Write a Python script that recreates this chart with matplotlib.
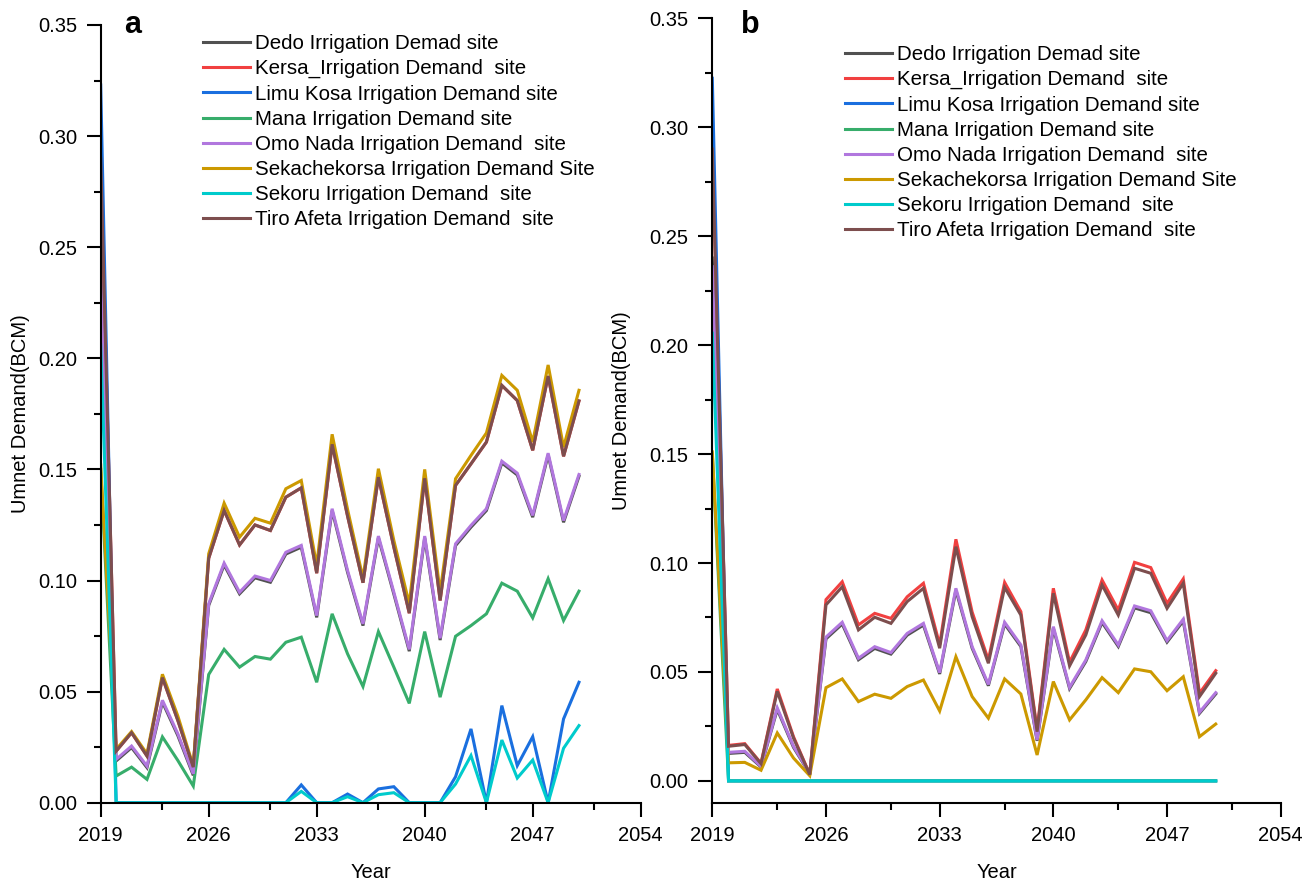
import matplotlib
matplotlib.use("Agg")
import matplotlib.pyplot as plt
from matplotlib.ticker import MultipleLocator, FixedLocator, FormatStrFormatter

plt.rcParams['font.family'] = ['Liberation Sans', 'DejaVu Sans']

years = list(range(2019, 2051))

series_names = [
    "Dedo Irrigation Demad site",
    "Kersa_Irrigation Demand  site",
    "Limu Kosa Irrigation Demand site",
    "Mana Irrigation Demand site",
    "Omo Nada Irrigation Demand  site",
    "Sekachekorsa Irrigation Demand Site",
    "Sekoru Irrigation Demand  site",
    "Tiro Afeta Irrigation Demand  site",
]
colors = ["#515151", "#F14040", "#1A6FDF", "#37AD6B", "#B177DE", "#CC9900", "#00CBCC", "#7D4E4E"]

# ---------------- panel a ----------------
dedo_a = [0.244, 0.0188, 0.0248, 0.0158, 0.0453, 0.0302, 0.0123, 0.0888, 0.1070, 0.0940, 0.1012,
          0.0992, 0.1119, 0.1150, 0.0834, 0.1315, 0.1037, 0.0797, 0.1192, 0.0939, 0.0682, 0.1192,
          0.0732, 0.1157, 0.1240, 0.1315, 0.1529, 0.1475, 0.1285, 0.1565, 0.1262, 0.1469]
kersa_a = [0.290, 0.0232, 0.0315, 0.0210, 0.0563, 0.0370, 0.0160, 0.1100, 0.1315, 0.1160, 0.1250,
           0.1225, 0.1375, 0.1417, 0.1033, 0.1613, 0.1290, 0.0990, 0.1465, 0.1150, 0.0853, 0.1460,
           0.0910, 0.1428, 0.1525, 0.1623, 0.1878, 0.1810, 0.1586, 0.1920, 0.1559, 0.1808]
limu_a = [0.323, 0, 0, 0, 0, 0, 0, 0, 0, 0, 0,
          0, 0, 0.0080, 0, 0, 0.0039, 0, 0.0062, 0.0072, 0, 0,
          0, 0.0117, 0.0332, 0, 0.0437, 0.0167, 0.0297, 0, 0.0377, 0.0542]
mana_a = [0.150, 0.0120, 0.0160, 0.0105, 0.0296, 0.0190, 0.0075, 0.0577, 0.0690, 0.0610, 0.0658,
          0.0646, 0.0722, 0.0745, 0.0542, 0.0850, 0.0670, 0.0523, 0.0770, 0.0610, 0.0447, 0.0770,
          0.0475, 0.0749, 0.0797, 0.0850, 0.0988, 0.0952, 0.0832, 0.1008, 0.0820, 0.0952]
omo_a = [0.236, 0.0195, 0.0255, 0.0165, 0.0461, 0.0310, 0.0130, 0.0895, 0.1078, 0.0947, 0.1020,
         0.1000, 0.1127, 0.1158, 0.0842, 0.1323, 0.1045, 0.0805, 0.1200, 0.0947, 0.0690, 0.1200,
         0.0740, 0.1165, 0.1248, 0.1323, 0.1537, 0.1483, 0.1293, 0.1573, 0.1270, 0.1477]
sekacha_a = [0.152, 0.0240, 0.0320, 0.0220, 0.0578, 0.0390, 0.0165, 0.1120, 0.1348, 0.1195, 0.1280,
             0.1258, 0.1413, 0.1450, 0.1068, 0.1658, 0.1320, 0.1010, 0.1503, 0.1180, 0.0895, 0.1500,
             0.0947, 0.1458, 0.1563, 0.1664, 0.1923, 0.1856, 0.1623, 0.1970, 0.1600, 0.1856]
sekoru_a = [0.206, 0, 0, 0, 0, 0, 0, 0, 0, 0, 0,
            0, 0, 0.0051, 0, 0, 0.0027, 0, 0.0036, 0.0045, 0, 0,
            0, 0.0084, 0.0212, 0, 0.0282, 0.0111, 0.0192, 0, 0.0245, 0.0347]
tiro_a = [0.290, 0.0232, 0.0315, 0.0210, 0.0563, 0.0370, 0.0160, 0.1100, 0.1315, 0.1160, 0.1250,
          0.1225, 0.1375, 0.1417, 0.1033, 0.1613, 0.1290, 0.0990, 0.1465, 0.1150, 0.0853, 0.1460,
          0.0910, 0.1428, 0.1525, 0.1623, 0.1878, 0.1810, 0.1586, 0.1920, 0.1559, 0.1808]

# ---------------- panel b ----------------
dedo_b = [0.240, 0.0126, 0.0131, 0.0064, 0.0328, 0.0154, 0.0033, 0.0652, 0.0720, 0.0556, 0.0608,
          0.0582, 0.0669, 0.0715, 0.0491, 0.0875, 0.0609, 0.0437, 0.0720, 0.0617, 0.0184, 0.0700,
          0.0424, 0.0548, 0.0727, 0.0617, 0.0794, 0.0772, 0.0637, 0.0734, 0.0310, 0.0399]
kersa_b = [0.292, 0.0163, 0.0171, 0.0081, 0.0422, 0.0203, 0.0030, 0.0832, 0.0914, 0.0716, 0.0769,
           0.0746, 0.0845, 0.0907, 0.0625, 0.1109, 0.0775, 0.0555, 0.0911, 0.0777, 0.0235, 0.0884,
           0.0545, 0.0693, 0.0922, 0.0784, 0.1003, 0.0979, 0.0815, 0.0927, 0.0402, 0.0506]
limu_b = [0.3225, 0, 0, 0, 0, 0, 0, 0, 0, 0, 0,
          0, 0, 0, 0, 0, 0, 0, 0, 0, 0, 0,
          0, 0, 0, 0, 0, 0, 0, 0, 0, 0]
mana_b = [0.150, 0, 0, 0, 0, 0, 0, 0, 0, 0, 0,
          0, 0, 0, 0, 0, 0, 0, 0, 0, 0, 0,
          0, 0, 0, 0, 0, 0, 0, 0, 0, 0]
omo_b = [0.236, 0.0131, 0.0136, 0.0067, 0.0335, 0.0159, 0.0035, 0.0660, 0.0728, 0.0563, 0.0616,
         0.0589, 0.0677, 0.0723, 0.0497, 0.0884, 0.0616, 0.0443, 0.0728, 0.0624, 0.0188, 0.0708,
         0.0430, 0.0555, 0.0735, 0.0624, 0.0803, 0.0781, 0.0644, 0.0742, 0.0315, 0.0405]
sekacha_b = [0.151, 0.0083, 0.0085, 0.0049, 0.0220, 0.0105, 0.0024, 0.0428, 0.0468, 0.0364, 0.0398,
             0.0379, 0.0433, 0.0463, 0.0321, 0.0570, 0.0387, 0.0288, 0.0468, 0.0399, 0.0119, 0.0456,
             0.0280, 0.0372, 0.0474, 0.0405, 0.0514, 0.0501, 0.0414, 0.0478, 0.0203, 0.0261]
sekoru_b = [0.2055, 0, 0, 0, 0, 0, 0, 0, 0, 0, 0,
            0, 0, 0, 0, 0, 0, 0, 0, 0, 0, 0,
            0, 0, 0, 0, 0, 0, 0, 0, 0, 0]
tiro_b = [0.290, 0.0159, 0.0167, 0.0079, 0.0411, 0.0197, 0.0029, 0.0808, 0.0891, 0.0693, 0.0751,
          0.0723, 0.0823, 0.0884, 0.0609, 0.1075, 0.0754, 0.0540, 0.0888, 0.0761, 0.0226, 0.0861,
          0.0528, 0.0670, 0.0899, 0.0761, 0.0976, 0.0953, 0.0792, 0.0907, 0.0387, 0.0494]

x_major_ticks = [2019, 2026, 2033, 2040, 2047, 2054]
x_minor_ticks = [2023, 2030, 2037, 2044, 2051]

panel_a = [dedo_a, kersa_a, limu_a, mana_a, omo_a, sekacha_a, sekoru_a, tiro_a]
panel_b = [dedo_b, kersa_b, limu_b, mana_b, omo_b, sekacha_b, sekoru_b, tiro_b]

W, H = 1313, 883
fig = plt.figure(figsize=(W / 100, H / 100), dpi=100)

def px_axes(left, top, right, bottom):
    return fig.add_axes([left / W, 1 - bottom / H, (right - left) / W, (bottom - top) / H])

ax_a = px_axes(100.7, 25.0, 640.7, 802.7)
ax_b = px_axes(712.3, 18.3, 1280.7, 802.7)

FS = 14.5
LFS = 14.8
for ax, data, ylim, letter, leg_xy, ylab_x in [
    (ax_a, panel_a, (0, 0.35), "a", (203, 34), -0.149),
    (ax_b, panel_b, (-0.01, 0.35), "b", (845, 45), -0.159),
]:
    for name, col, vals in zip(series_names, colors, data):
        ax.plot(years, vals, color=col, lw=2.2, label=name, solid_joinstyle='miter')
    ax.set_xlim(2019, 2054)
    ax.set_ylim(*ylim)
    ax.xaxis.set_major_locator(FixedLocator(x_major_ticks))
    ax.xaxis.set_minor_locator(FixedLocator(x_minor_ticks))
    ax.yaxis.set_major_locator(MultipleLocator(0.05))
    ax.yaxis.set_minor_locator(MultipleLocator(0.025))
    ax.yaxis.set_major_formatter(FormatStrFormatter('%.2f'))
    for s in ['top', 'right']:
        ax.spines[s].set_visible(False)
    for s in ['left', 'bottom']:
        ax.spines[s].set_linewidth(1.5)
    ax.tick_params(which='major', direction='out', length=10, width=1.5, labelsize=FS, pad=7)
    ax.tick_params(which='minor', direction='out', length=5, width=1.5)
    ax.set_xlabel("Year", fontsize=FS)
    ax.xaxis.set_label_coords(0.5, -0.077)
    ax.set_ylabel("Umnet Demand(BCM)", fontsize=FS, va='center')
    ax.yaxis.set_label_coords(ylab_x, 0.5)
    fig.text((133 if letter == "a" else 750) / W, 1 - 33 / H, letter,
             fontsize=22, fontweight='bold', ha='center', va='baseline')
    ax.legend(loc='upper left', bbox_to_anchor=(leg_xy[0] / W, 1 - leg_xy[1] / H),
              bbox_transform=fig.transFigure, frameon=False, fontsize=LFS,
              handlelength=2.3, handletextpad=0.25, labelspacing=0.3,
              borderpad=0, borderaxespad=0)

fig.savefig("out.png", dpi=100)
